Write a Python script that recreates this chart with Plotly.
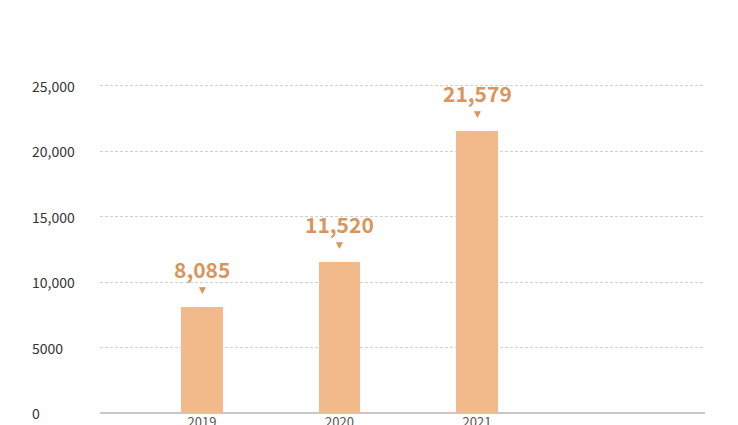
import plotly.graph_objects as go

categories = ["2019", "2020", "2021"]
values = [8085, 11520, 21579]
value_labels = ["8,085", "11,520", "21,579"]
y_tick_vals = [0, 5000, 10000, 15000, 20000, 25000]
y_tick_text = ["0", "5000", "10,000", "15,000", "20,000", "25,000"]

BAR = "#F2BA8A"
LABEL = "#D8955C"
FONT = "Noto Sans CJK SC"

fig = go.Figure()
fig.add_trace(go.Bar(x=categories, y=values, marker=dict(color=BAR, line=dict(width=0)),
                     width=0.305, hoverinfo="skip"))

ann = []
for i, (v, t) in enumerate(zip(values, value_labels)):
    ann.append(dict(x=i, y=v, xref="x", yref="y", text=f"<b>{t}</b>", showarrow=False,
                    yshift=38, font=dict(family=FONT, size=21, color=LABEL)))
    ann.append(dict(x=i, y=v, xref="x", yref="y", text="▼", showarrow=False,
                    yshift=17, font=dict(family="DejaVu Sans", size=9, color=LABEL)))
for v, t in zip(y_tick_vals, y_tick_text):
    ann.append(dict(x=-70/605, y=v, xref="paper", yref="y", text=t, showarrow=False,
                    xanchor="left", yanchor="middle", font=dict(family=FONT, size=14, color="#333333")))

fig.update_layout(
    width=738, height=425,
    margin=dict(l=92, r=41, t=76, b=20),
    paper_bgcolor="white", plot_bgcolor="white",
    showlegend=False,
    font=dict(family=FONT, size=13, color="#555555"),
    xaxis=dict(range=[-0.742, 3.658], showgrid=False, showline=False, zeroline=False,
               automargin=False, ticks="", tickfont=dict(size=13, color="#555555")),
    yaxis=dict(range=[0, 25150], tickvals=y_tick_vals, showticklabels=False,
               automargin=False,
               showgrid=True, gridcolor="#d0d0d0", griddash="3px,2px", gridwidth=1,
               zeroline=True, zerolinecolor="#c8c8c8", zerolinewidth=1.5, showline=False),
    annotations=ann,
    bargap=0,
)

fig.write_html("out.html")
